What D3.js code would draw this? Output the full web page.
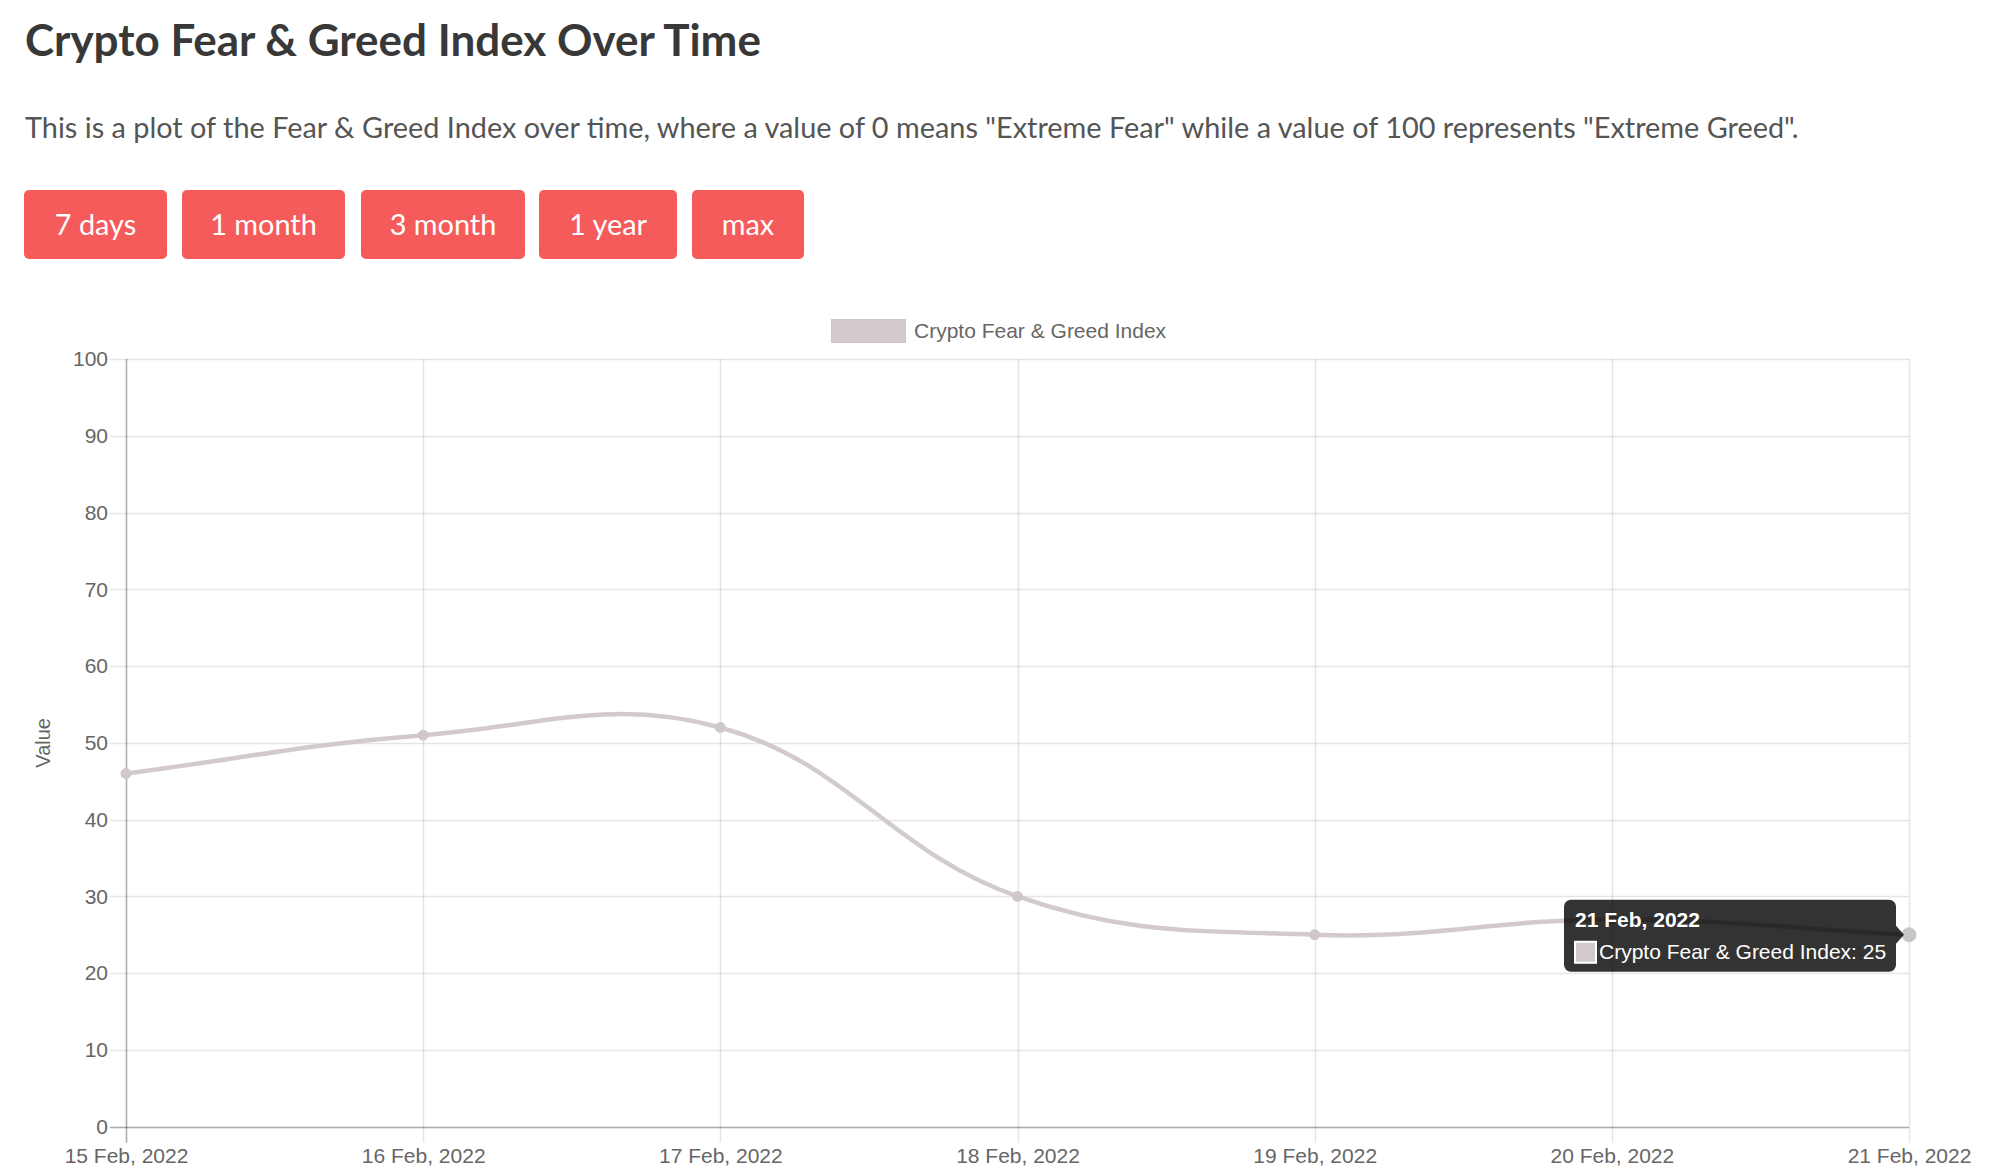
<!DOCTYPE html>
<html>
<head>
<meta charset="utf-8">
<script src="https://cdn.jsdelivr.net/npm/d3@7"></script>
<style>
  html, body { margin: 0; padding: 0; background: #fff; }
  svg { display: block; }
</style>
</head>
<body>
<svg id="chart" width="1999" height="1174"></svg>
<script>
// ---------- data ----------
const titleText = "Crypto Fear & Greed Index Over Time";
const subtitleText = 'This is a plot of the Fear & Greed Index over time, where a value of 0 means "Extreme Fear" while a value of 100 represents "Extreme Greed".';
const buttonLabels = ["7 days", "1 month", "3 month", "1 year", "max"];
const seriesName = "Crypto Fear & Greed Index";
const dates = ["2022-02-15", "2022-02-16", "2022-02-17", "2022-02-18", "2022-02-19", "2022-02-20", "2022-02-21"];
const values = [46, 51, 52, 30, 25, 27, 25];
const yTicks = [0, 10, 20, 30, 40, 50, 60, 70, 80, 90, 100];
const yAxisLabel = "Value";
const tooltipIndex = 6;

// ---------- layout / style ----------
const layout = {
  left: 126, right: 1909, top: 359, bottom: 1126.7,
  buttonTop: 190, buttonBottom: 259,
  buttonX: [[24, 167], [182, 345], [361, 525], [539, 677], [692, 804]]
};
const lineColor = "#d2cacc";
const chartFont = "'Liberation Sans', Arial, Helvetica, sans-serif";
const headFont = "Lato, 'Noto Sans', sans-serif";

const svg = d3.select("#chart");
const parse = d3.utcParse("%Y-%m-%d");
const data = dates.map((d, i) => ({ date: parse(d), value: values[i] }));

// ---------- header ----------
function fitText(sel, targetWidth, baseSize) {
  const w = sel.node().getComputedTextLength();
  sel.attr("font-size", baseSize * targetWidth / w);
}
const title = svg.append("text")
  .attr("x", 25).attr("y", 56)
  .attr("font-family", headFont).attr("font-weight", 700)
  .attr("font-size", 40).attr("fill", "#383838")
  .text(titleText);
fitText(title, 736, 40);

const subtitle = svg.append("text")
  .attr("x", 25).attr("y", 138)
  .attr("font-family", headFont).attr("font-weight", 400)
  .attr("font-size", 27).attr("fill", "#555")
  .text(subtitleText);
fitText(subtitle, 1774, 27);
const subSize = +subtitle.attr("font-size");

const btn = svg.append("g").selectAll("g").data(buttonLabels).join("g");
btn.append("rect")
  .attr("x", (d, i) => layout.buttonX[i][0])
  .attr("y", layout.buttonTop)
  .attr("width", (d, i) => layout.buttonX[i][1] - layout.buttonX[i][0])
  .attr("height", layout.buttonBottom - layout.buttonTop)
  .attr("rx", 5).attr("fill", "#f65b5b");
btn.append("text")
  .attr("x", (d, i) => (layout.buttonX[i][0] + layout.buttonX[i][1]) / 2)
  .attr("y", 235)
  .attr("text-anchor", "middle")
  .attr("font-family", headFont).attr("font-size", subSize)
  .attr("fill", "#fff")
  .text(d => d);

// ---------- scales ----------
const x = d3.scaleUtc().domain(d3.extent(data, d => d.date)).range([layout.left, layout.right]);
const y = d3.scaleLinear().domain([0, 100]).range([layout.bottom, layout.top]);

// ---------- grid ----------
const grid = svg.append("g");
grid.selectAll("line.h").data(yTicks).join("line")
  .attr("x1", layout.left - 16).attr("x2", layout.right)
  .attr("y1", d => Math.round(y(d)) + 0.5).attr("y2", d => Math.round(y(d)) + 0.5)
  .attr("stroke", "rgba(0,0,0,0.1)").attr("stroke-width", 1.5);
grid.selectAll("line.v").data(data).join("line")
  .attr("x1", d => Math.round(x(d.date)) + 0.5).attr("x2", d => Math.round(x(d.date)) + 0.5)
  .attr("y1", layout.top).attr("y2", layout.bottom + 16)
  .attr("stroke", "rgba(0,0,0,0.1)").attr("stroke-width", 1.5);

// axis lines
svg.append("line")
  .attr("x1", layout.left + 0.5).attr("x2", layout.left + 0.5)
  .attr("y1", layout.top).attr("y2", layout.bottom + 16)
  .attr("stroke", "rgba(0,0,0,0.25)").attr("stroke-width", 1.5);
svg.append("line")
  .attr("x1", layout.left - 16).attr("x2", layout.right)
  .attr("y1", Math.round(layout.bottom) + 0.5).attr("y2", Math.round(layout.bottom) + 0.5)
  .attr("stroke", "rgba(0,0,0,0.25)").attr("stroke-width", 1.5);

// ---------- axes (labels) ----------
const yAxis = svg.append("g")
  .attr("transform", `translate(${layout.left},0)`)
  .call(d3.axisLeft(y).tickValues(yTicks).tickSize(16).tickPadding(2));
yAxis.select(".domain").remove();
yAxis.selectAll(".tick line").remove();
yAxis.selectAll("text").attr("font-family", chartFont).attr("font-size", 21).attr("fill", "#666");

const xAxis = svg.append("g")
  .attr("transform", `translate(0,${layout.bottom})`)
  .call(d3.axisBottom(x).tickValues(data.map(d => d.date)).tickSize(16).tickPadding(5)
    .tickFormat(d3.utcFormat("%-d %b, %Y")));
xAxis.select(".domain").remove();
xAxis.selectAll(".tick line").remove();
xAxis.selectAll("text").attr("font-family", chartFont).attr("font-size", 21).attr("fill", "#666");

svg.append("text")
  .attr("transform", `translate(43,${(layout.top + layout.bottom) / 2}) rotate(-90)`)
  .attr("text-anchor", "middle").attr("dy", "0.35em")
  .attr("font-family", chartFont).attr("font-size", 20).attr("fill", "#666")
  .text(yAxisLabel);

// ---------- legend ----------
svg.append("rect")
  .attr("x", 831.5).attr("y", 319.5).attr("width", 74).attr("height", 23)
  .attr("fill", lineColor).attr("stroke", "#cdc5c7").attr("stroke-width", 1);
svg.append("text")
  .attr("x", 914).attr("y", 331).attr("dy", "0.35em")
  .attr("font-family", chartFont).attr("font-size", 21).attr("fill", "#666")
  .text(seriesName);

// ---------- line (Chart.js-style bezier, tension 0.4) ----------
const pts = data.map(d => ({ x: x(d.date), y: y(d.value) }));
const tension = 0.4;
const ctrl = pts.map((p, i) => {
  const prev = i > 0 ? pts[i - 1] : p;
  const next = i < pts.length - 1 ? pts[i + 1] : p;
  const d01 = Math.hypot(p.x - prev.x, p.y - prev.y);
  const d12 = Math.hypot(next.x - p.x, next.y - p.y);
  let s01 = d01 / (d01 + d12), s12 = d12 / (d01 + d12);
  if (isNaN(s01)) s01 = 0; if (isNaN(s12)) s12 = 0;
  const fa = tension * s01, fb = tension * s12;
  const clampY = v => Math.max(layout.top, Math.min(layout.bottom, v));
  return {
    prev: { x: p.x - fa * (next.x - prev.x), y: clampY(p.y - fa * (next.y - prev.y)) },
    next: { x: p.x + fb * (next.x - prev.x), y: clampY(p.y + fb * (next.y - prev.y)) }
  };
});
const path = d3.path();
path.moveTo(pts[0].x, pts[0].y);
for (let i = 1; i < pts.length; i++) {
  path.bezierCurveTo(ctrl[i - 1].next.x, ctrl[i - 1].next.y, ctrl[i].prev.x, ctrl[i].prev.y, pts[i].x, pts[i].y);
}
svg.append("path").attr("d", path.toString())
  .attr("fill", "none").attr("stroke", lineColor).attr("stroke-width", 4.5);

svg.append("g").selectAll("circle").data(data).join("circle")
  .attr("cx", d => x(d.date)).attr("cy", d => y(d.value))
  .attr("r", (d, i) => i === tooltipIndex ? 7 : 5)
  .attr("fill", (d, i) => i === tooltipIndex ? "#c8c5c6" : "#cfc7c9")
  .attr("stroke", (d, i) => i === tooltipIndex ? "#c8c5c6" : "#cfc7c9")
  .attr("stroke-width", 1);

// ---------- tooltip ----------
const tp = data[tooltipIndex];
const tx = x(tp.date), ty = y(tp.value);
const tip = svg.append("g");
const boxR = tx - 13, boxL = boxR - 332, boxT = ty - 35, boxB = ty + 37;
tip.append("rect")
  .attr("x", boxL).attr("y", boxT).attr("width", boxR - boxL).attr("height", boxB - boxT)
  .attr("rx", 7).attr("fill", "rgba(0,0,0,0.8)");
tip.append("path")
  .attr("d", `M${boxR},${ty - 9}L${boxR + 8},${ty}L${boxR},${ty + 9}Z`)
  .attr("fill", "rgba(0,0,0,0.8)");
tip.append("text")
  .attr("x", boxL + 11).attr("y", boxT + 27)
  .attr("font-family", chartFont).attr("font-weight", 700).attr("font-size", 21)
  .attr("fill", "#fff")
  .text(d3.utcFormat("%-d %b, %Y")(tp.date));
tip.append("rect")
  .attr("x", boxL + 11).attr("y", boxT + 42).attr("width", 21).attr("height", 21)
  .attr("fill", lineColor).attr("stroke", "#fff").attr("stroke-width", 2);
tip.append("text")
  .attr("x", boxL + 35).attr("y", boxT + 59)
  .attr("font-family", chartFont).attr("font-size", 21)
  .attr("fill", "#fff")
  .text(`${seriesName}: ${tp.value}`);
</script>
</body>
</html>
